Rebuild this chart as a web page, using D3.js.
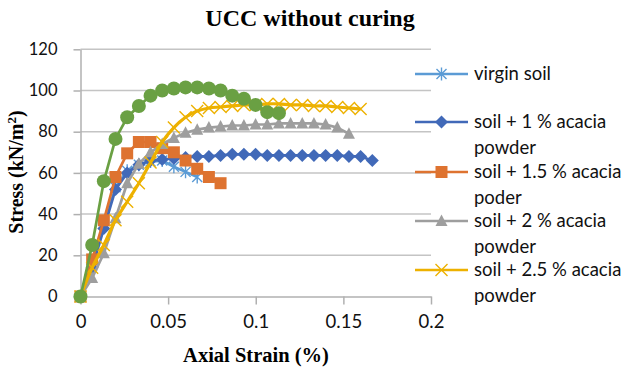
<!DOCTYPE html>
<meta charset="utf-8">
<head>
<script src="https://d3js.org/d3.v7.min.js"></script>
<style>
  body { margin: 0; background: #fff; }
  .tick text { font-family: Lato, sans-serif; }
</style>
</head>
<body>
<script>
"use strict";
var width = 630, height = 369;

// strain (%) values, step between readings ~0.00666
var step = 0.00666;
function strains(n) { var a = []; for (var i = 0; i < n; i++) a.push(+(i * step).toFixed(5)); return a; }

var virginStress = [0, 15, 35, 53, 61, 64, 65.5, 66, 63, 60.5, 58];
var acacia1Stress = [0, 14, 33, 52, 60, 64, 66, 66.5, 67, 67.5, 68, 68, 68.5, 69, 69, 69, 68.5, 68.5, 68.5, 68.5, 68.5, 68.5, 68.5, 68, 68, 66];
var acacia15Stress = [0, 18, 37, 58, 69.5, 75, 75, 72, 70, 66, 62, 58, 55];
var acacia2Stress = [0, 9, 21, 38, 55, 64.5, 70, 74, 77, 79.5, 81, 82, 82.5, 83, 83, 83.5, 83.5, 84, 84, 84, 84, 83.5, 82, 79];
var acacia25Stress = [0, 14, 25, 37, 46, 55, 65, 75, 82, 87, 90, 91.5, 92, 92.5, 93, 93, 93.5, 93.5, 93, 93, 92.5, 92.5, 92, 91.5, 91];
var greenStress = [0, 25, 56, 76.5, 87, 92.5, 97.5, 100, 101, 101.5, 101.5, 101, 100, 97.5, 96, 93, 89.5, 89];

var xTicks = [0, 0.05, 0.1, 0.15, 0.2];
var yTicks = [0, 20, 40, 60, 80, 100, 120];

var series = [
  { name: ["virgin soil"], color: "#5B9BD5", marker: "star", y: virginStress },
  { name: ["soil + 1 % acacia", "powder"], color: "#4169B8", marker: "diamond", y: acacia1Stress },
  { name: ["soil + 1.5 % acacia", "poder"], color: "#DE7330", marker: "square", y: acacia15Stress },
  { name: ["soil + 2 % acacia", "powder"], color: "#9E9E9E", marker: "triangle", y: acacia2Stress },
  { name: ["soil + 2.5 % acacia", "powder"], color: "#EDB100", marker: "x", y: acacia25Stress, smooth: true },
  { name: null, color: "#6AA043", marker: "circle", y: greenStress }
];

var x = d3.scaleLinear().domain([0, 0.2]).range([80.5, 431]);
var y = d3.scaleLinear().domain([0, 120]).range([296.5, 49.3]);

var svg = d3.select("body").append("svg").attr("width", width).attr("height", height);

// gridlines
svg.append("g").selectAll("line").data(yTicks.slice(1)).enter().append("line")
  .attr("x1", x(0)).attr("x2", x(0.2))
  .attr("y1", d => y(d)).attr("y2", d => y(d))
  .attr("stroke", "#C4C4C4").attr("stroke-width", 1.5);

var xAxis = svg.append("g").attr("transform", "translate(0," + y(0) + ")")
  .call(d3.axisBottom(x).tickValues(xTicks).tickFormat(d3.format("")).tickSize(8).tickSizeOuter(0));
xAxis.select(".domain").attr("stroke", "#B0B0B0").attr("stroke-width", 1.5);
xAxis.selectAll(".tick line").attr("stroke", "#B0B0B0").attr("stroke-width", 1.5);
xAxis.selectAll(".tick text").attr("font-size", 18.5).attr("fill", "#111").attr("y", 14).attr("dy", "0.95em");

var yAxis = svg.append("g").attr("transform", "translate(" + x(0) + ",0)")
  .call(d3.axisLeft(y).tickValues(yTicks).tickSize(7).tickSizeOuter(0));
yAxis.select(".domain").attr("stroke", "#B0B0B0").attr("stroke-width", 1.5);
yAxis.selectAll(".tick line").attr("stroke", "#B0B0B0").attr("stroke-width", 1.5);
yAxis.selectAll(".tick text").attr("font-size", 16.5).attr("fill", "#111").attr("x", -23);

function markerPath(type) {
  switch (type) {
    case "diamond": return "M0,-6.5L6.5,0L0,6.5L-6.5,0Z";
    case "square": return "M-6,-6H6V6H-6Z";
    case "triangle": return "M0,-6.5L6,5L-6,5Z";
    case "x": return "M-6,-6L6,6M-6,6L6,-6";
    case "star": return "M-5,-5L5,5M-5,5L5,-5M0,-6.5V6.5";
    default: return null;
  }
}

function drawMarker(g, s, cx, cy) {
  if (s.marker === "circle") {
    g.append("circle").attr("cx", cx).attr("cy", cy).attr("r", 7).attr("fill", s.color);
  } else if (s.marker === "x" || s.marker === "star") {
    g.append("path").attr("d", markerPath(s.marker)).attr("transform", "translate(" + cx + "," + cy + ")")
      .attr("fill", "none").attr("stroke", s.color).attr("stroke-width", 1.4);
  } else {
    g.append("path").attr("d", markerPath(s.marker)).attr("transform", "translate(" + cx + "," + cy + ")")
      .attr("fill", s.color);
  }
}

series.forEach(function(s) {
  var pts = strains(s.y.length).map((sx, i) => [sx, s.y[i]]);
  var line = d3.line().x(d => x(d[0])).y(d => y(d[1]))
    .curve(s.smooth ? d3.curveCatmullRom.alpha(0.5) : d3.curveLinear);
  var g = svg.append("g");
  g.append("path").datum(pts).attr("d", line)
    .attr("fill", "none").attr("stroke", s.color).attr("stroke-width", s.smooth ? 3.2 : 2.7)
    .attr("stroke-linejoin", "round");
  pts.forEach(p => drawMarker(g, s, x(p[0]), y(p[1])));
});

// legend
var legendY = [74, 122, 172, 221, 270];
var legend = svg.append("g");
series.filter(s => s.name).forEach(function(s, i) {
  var ly = legendY[i];
  legend.append("line").attr("x1", 415).attr("x2", 468).attr("y1", ly).attr("y2", ly)
    .attr("stroke", s.color).attr("stroke-width", 2.7);
  drawMarker(legend, s, 441.5, ly);
  s.name.forEach(function(t, j) {
    legend.append("text").attr("x", 474).attr("y", ly + j * 26).attr("dy", "0.35em")
      .attr("font-family", "Lato, sans-serif").attr("font-size", 18.5).attr("fill", "#111").text(t);
  });
});

// titles
svg.append("text").attr("x", 310).attr("y", 26).attr("text-anchor", "middle")
  .attr("font-family", "Liberation Serif, serif").attr("font-weight", "bold").attr("font-size", 24)
  .text("UCC without curing");

svg.append("text").attr("x", 256).attr("y", 362).attr("text-anchor", "middle")
  .attr("font-family", "Liberation Serif, serif").attr("font-weight", "bold").attr("font-size", 20.5)
  .text("Axial Strain (%)");

var yt = svg.append("text").attr("transform", "translate(23,172) rotate(-90)").attr("text-anchor", "middle")
  .attr("font-family", "Liberation Serif, serif").attr("font-weight", "bold").attr("font-size", 20);
yt.append("tspan").text("Stress (kN/m");
yt.append("tspan").attr("font-size", 13).attr("dy", -7).text("2");
yt.append("tspan").attr("dy", 7).text(")");
</script>
</body>
